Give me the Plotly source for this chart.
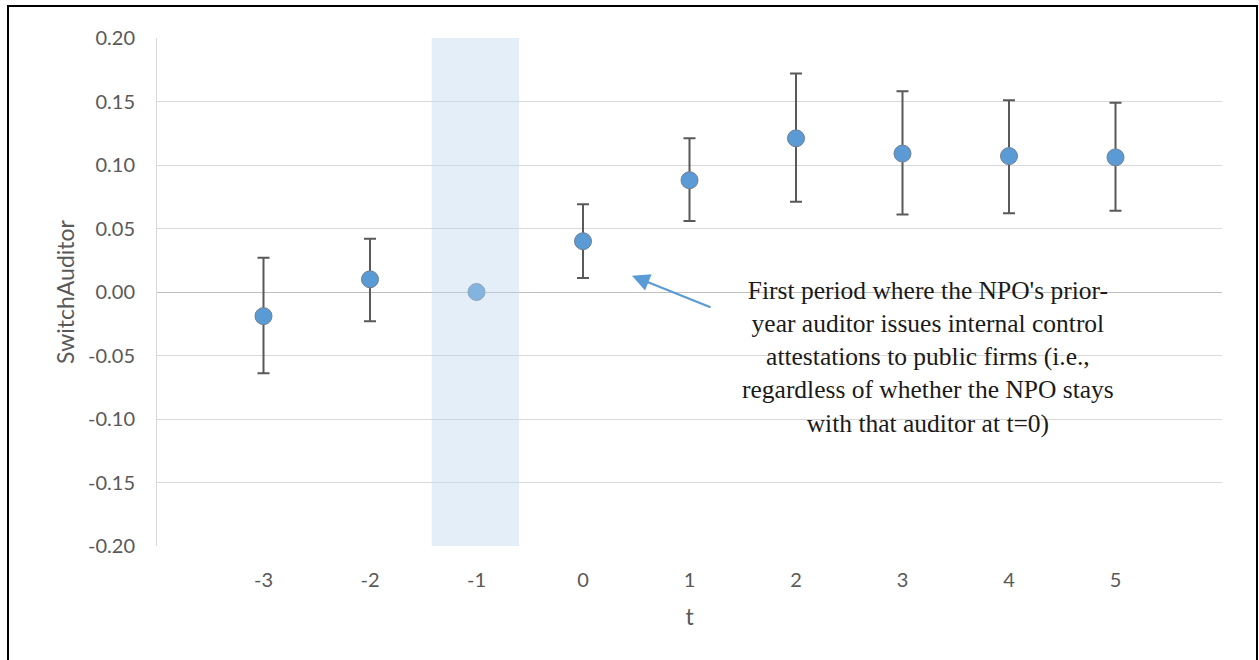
import plotly.graph_objects as go

# Data
t = [-3, -2, -1, 0, 1, 2, 3, 4, 5]
coef = [-0.019, 0.010, 0.000, 0.040, 0.088, 0.121, 0.109, 0.107, 0.106]
upper = [0.027, 0.042, 0.000, 0.069, 0.121, 0.172, 0.158, 0.151, 0.149]
lower = [-0.064, -0.023, 0.000, 0.011, 0.056, 0.071, 0.061, 0.062, 0.064]
y_ticks = [0.20, 0.15, 0.10, 0.05, 0.00, -0.05, -0.10, -0.15, -0.20]
y_tick_text = ["0.20", "0.15", "0.10", "0.05", "0.00", "-0.05", "-0.10", "-0.15", "-0.20"]

err_plus = [u - c for u, c in zip(upper, coef)]
err_minus = [c - l for c, l in zip(coef, lower)]

fig = go.Figure()
fig.add_trace(go.Scatter(
    x=t, y=coef, mode="markers",
    marker=dict(size=17, color="#5b9bd5", line=dict(color="#6f7f93", width=1)),
    error_y=dict(type="data", symmetric=False, array=err_plus, arrayminus=err_minus,
                 color="#595959", thickness=2, width=6),
    showlegend=False,
))

# shaded reference period band
fig.add_shape(type="rect", xref="x", yref="y", x0=-1.42, x1=-0.6, y0=-0.2, y1=0.2,
              fillcolor="#bdd7ee", opacity=0.42, line_width=0, layer="above")

# outer frame
fig.add_shape(type="rect", xref="paper", yref="paper",
              x0=(8 - 157) / 1065, x1=(1257 - 157) / 1065,
              y0=-0.3, y1=(546 - 6) / 508,
              line=dict(color="black", width=2), fillcolor="rgba(0,0,0,0)")

# arrow
fig.add_annotation(x=0.46, y=0.0127, xref="x", yref="y", text="", showarrow=True,
                   ax=80, ay=32, arrowhead=2, arrowsize=1.6, arrowwidth=2.2,
                   arrowcolor="#5b9bd5")
# annotation text
fig.add_annotation(x=3.24, y=-0.0515, xref="x", yref="y", showarrow=False,
                   text="First period where the NPO's prior-<br>year auditor issues internal control<br>"
                        "attestations to public firms (i.e.,<br>regardless of whether the NPO stays<br>"
                        "with that auditor at t=0)",
                   align="center", xanchor="center", yanchor="middle",
                   font=dict(family="Liberation Serif, Times New Roman, serif", size=25.5, color="#1a1a1a"))

fig.update_layout(
    width=1259, height=660,
    margin=dict(l=157, r=37, t=38, b=114),
    plot_bgcolor="white", paper_bgcolor="white",
    font=dict(family="Lato, Open Sans, sans-serif", color="#595959", size=20),
    xaxis=dict(range=[-4, 6], tickvals=t, ticktext=[str(v) for v in t],
               showgrid=False, zeroline=False, showline=False, ticks="",
               ticklabelstandoff=20,
               title=dict(text="t", font=dict(size=23, color="#595959"), standoff=18)),
    yaxis=dict(range=[-0.2, 0.2], tickvals=y_ticks, ticktext=y_tick_text,
               showgrid=True, gridcolor="#d9d9d9", gridwidth=1,
               zeroline=True, zerolinecolor="#bfbfbf", zerolinewidth=1,
               showline=True, linecolor="#d9d9d9", linewidth=1, ticks="",
               ticklabelstandoff=17,
               title=dict(text="SwitchAuditor", font=dict(size=23, color="#595959"), standoff=6)),
)

fig.write_html("out.html")
